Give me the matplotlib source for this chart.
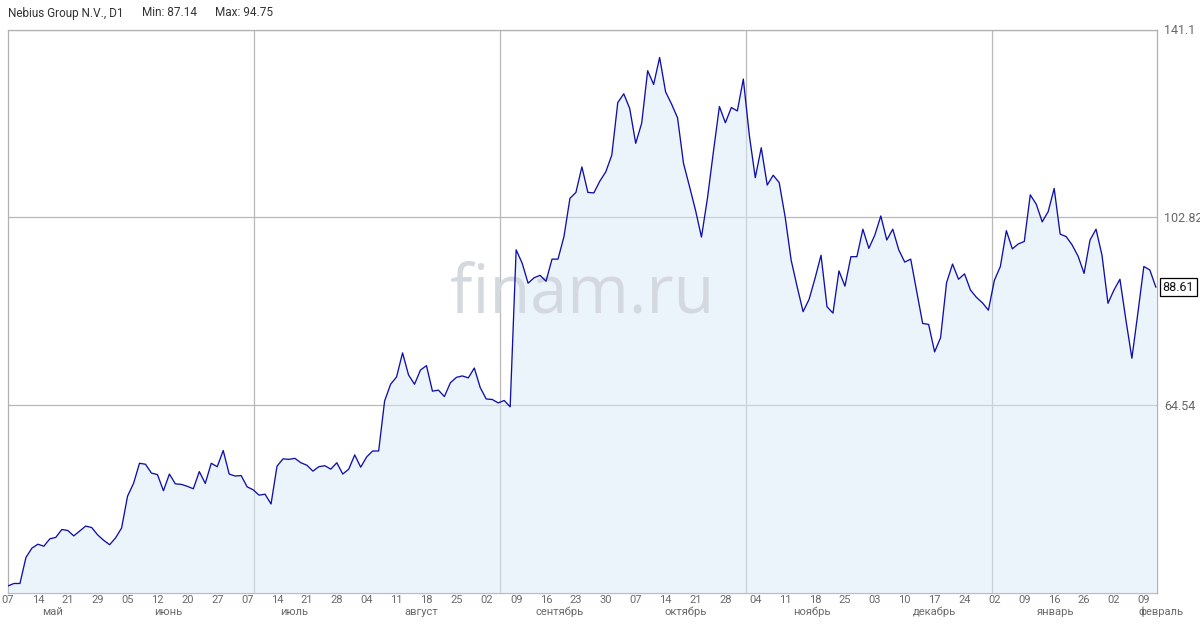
import matplotlib
matplotlib.use('Agg')
import matplotlib.pyplot as plt
import numpy as np

# daily closes, 07 May 2025 .. 11 Feb 2026 (trading days)
closes = [
    27.7, 28.2, 28.2, 33.5, 35.4, 36.2, 35.8, 37.3, 37.6, 39.2,
    39.0, 37.9, 38.9, 39.9, 39.6, 38.1, 37.0, 36.1, 37.5, 39.5,
    46.0, 48.6, 52.7, 52.5, 50.7, 50.4, 47.1, 50.5, 48.5, 48.4,
    48.0, 47.5, 51.0, 48.6, 52.7, 52.0, 55.3, 50.5, 50.1, 50.2,
    47.9, 47.3, 46.2, 46.4, 44.4, 52.1, 53.6, 53.5, 53.7, 52.8,
    52.3, 51.1, 52.0, 52.2, 51.5, 52.8, 50.5, 51.5, 54.4, 51.9,
    54.0, 55.2, 55.2, 65.4, 68.8, 70.3, 75.2, 70.7, 68.8, 71.7,
    72.6, 67.4, 67.6, 66.3, 69.1, 70.2, 70.5, 70.1, 72.1, 68.1,
    65.8, 65.7, 65.0, 65.5, 64.2, 96.2, 93.5, 89.4, 90.5, 91.0,
    89.8, 94.3, 94.3, 98.9, 106.7, 107.9, 113.1, 107.9, 107.8, 110.2,
    112.1, 115.5, 126.2, 128.0, 125.0, 117.9, 122.0, 132.7, 129.9, 135.4,
    128.4, 125.9, 123.1, 113.8, 109.1, 104.3, 98.8, 106.7, 116.2, 125.4,
    122.1, 125.2, 124.5, 131.0, 119.6, 110.9, 117.0, 109.4, 111.4, 109.9,
    102.9, 94.1, 88.7, 83.6, 86.1, 90.4, 95.1, 84.6, 83.3, 91.9,
    88.8, 94.8, 94.8, 100.4, 96.5, 99.2, 103.1, 98.2, 100.4, 96.2,
    93.7, 94.3, 87.7, 81.2, 81.0, 75.4, 78.3, 89.5, 93.3, 90.2,
    91.3, 88.0, 86.5, 85.4, 83.9, 90.0, 92.8, 100.1, 96.4, 97.4,
    97.9, 107.4, 105.5, 101.9, 104.0, 108.7, 99.4, 98.9, 97.2, 94.9,
    91.4, 98.2, 100.4, 95.1, 85.3, 88.0, 90.2, 81.9, 74.1, 83.3,
    92.8, 92.1, 88.61,
]

day_labels = ['07', '14', '21', '29', '05', '12', '20', '27', '07', '14',
              '21', '28', '04', '11', '18', '25', '02', '09', '16', '23',
              '30', '07', '14', '21', '28', '04', '11', '18', '25', '03',
              '10', '17', '24', '02', '09', '16', '26', '02', '09']
month_labels = ['май', 'июнь', 'июль', 'август', 'сентябрь', 'октябрь',
                'ноябрь', 'декабрь', 'январь', 'февраль']
month_pos = [7.5, 26.8, 47.8, 69.1, 92.3, 113.4, 134.5, 154.9, 175.3, 192.8]
y_levels = [64.54, 102.82, 141.1]
y_bottom = 26.26
vgrid = [41.1, 82.3, 123.4, 164.6]

title = 'Nebius Group N.V., D1'
min_txt = 'Min: 87.14'
max_txt = 'Max: 94.75'
last_txt = '88.61'

plt.rcParams['font.family'] = ['Roboto', 'DejaVu Sans']

fig = plt.figure(figsize=(12, 6.3), dpi=100)
ax = fig.add_axes([8 / 1200, 1 - 593 / 630, 1149 / 1200, 563.5 / 630])

x = np.arange(len(closes))
ax.fill_between(x, closes, y_bottom, color='#d9eaf9', alpha=0.5, lw=0, zorder=3)
ax.plot(x, closes, color='#1010a8', lw=0.95, zorder=5)

ax.text(0.5, 0.53, 'finam.ru', transform=ax.transAxes, ha='center', va='center',
        fontsize=48, color='#d4d8df', family=['Open Sans', 'DejaVu Sans'], zorder=4)

ax.set_xlim(0, 192.2)
ax.set_ylim(y_bottom, y_levels[-1])

# weekly ticks, every 5 trading days
ax.set_xticks(np.arange(len(day_labels)) * 5)
ax.set_xticklabels(day_labels, fontsize=8, color='#6a6a6a')
ax.set_xticks(vgrid, minor=True)
ax.tick_params(axis='x', which='both', length=0, pad=1.5)
ax.grid(which='minor', axis='x', color='#b8b8b8', lw=0.9, zorder=1)

for lbl, pos in zip(month_labels, month_pos):
    ax.annotate(lbl, xy=(pos, 0), xycoords=('data', 'axes fraction'),
                xytext=(0, -13.5), textcoords='offset points',
                ha='center', va='center', fontsize=8, color='#6a6a6a',
                annotation_clip=False)

ax.yaxis.tick_right()
ax.set_yticks(y_levels)
ax.set_yticklabels(['64.54', '102.82', '141.1'], fontsize=9, color='#666666')
ax.tick_params(axis='y', length=0, pad=5)
ax.grid(which='major', axis='y', color='#b8b8b8', lw=0.9, zorder=1)

for s in ax.spines.values():
    s.set_color('#b0b0b0')
    s.set_linewidth(0.9)

# last price box
ax.annotate(last_txt, xy=(1, closes[-1]), xycoords=('axes fraction', 'data'),
            xytext=(4, 0), textcoords='offset points', ha='left', va='center',
            fontsize=9, color='#111111', annotation_clip=False,
            bbox=dict(boxstyle='square,pad=0.2', fc='white', ec='black', lw=0.9))

fig.text(8 / 1200, 1 - 13 / 630, title, fontsize=8.5, color='#333333', va='center')
fig.text(142 / 1200, 1 - 13 / 630, min_txt, fontsize=8.5, color='#333333', va='center')
fig.text(215 / 1200, 1 - 13 / 630, max_txt, fontsize=8.5, color='#333333', va='center')

plt.savefig('out.png', dpi=100)
